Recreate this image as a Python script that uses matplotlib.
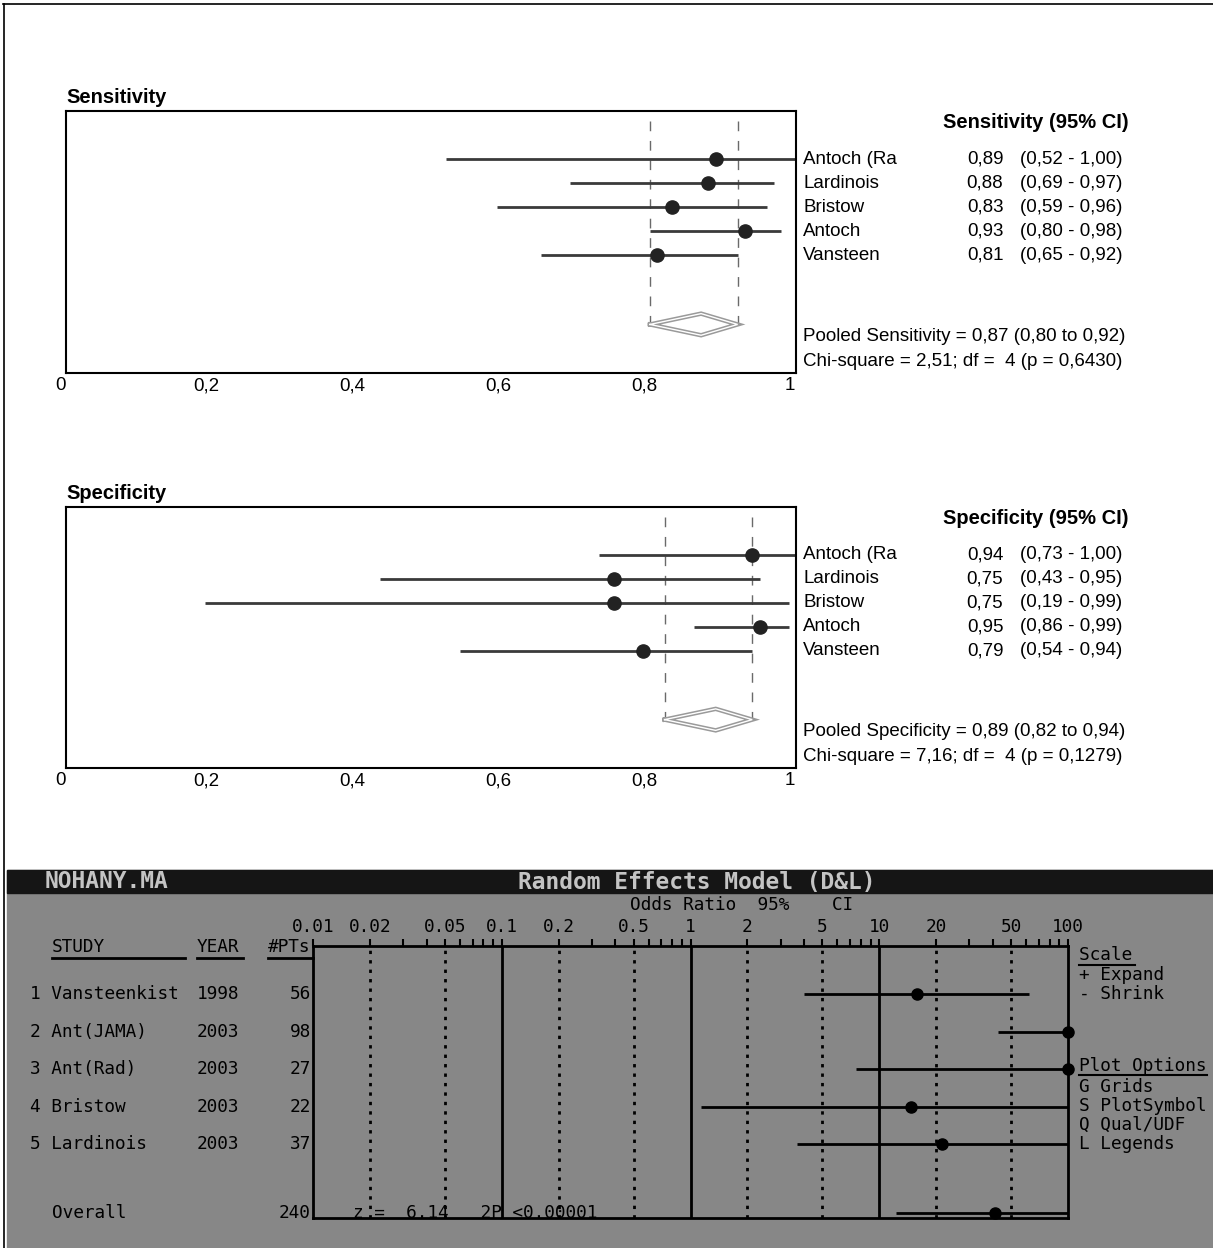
import matplotlib
matplotlib.use('Agg')
import matplotlib.pyplot as plt
import matplotlib.transforms as mtransforms
from matplotlib.lines import Line2D
from matplotlib.patches import Rectangle
from matplotlib.ticker import NullFormatter
import numpy as np

W, H = 1213, 1248
DPI = 100
SANS = ['Liberation Sans', 'DejaVu Sans']
MONO = ['DejaVu Sans Mono']

# --- Sensitivity / Specificity (Meta-DiSc style) ---
studies = ['Antoch (Ra', 'Lardinois', 'Bristow', 'Antoch', 'Vansteen']
sens_est = [0.89, 0.88, 0.83, 0.93, 0.81]
sens_lo = [0.52, 0.69, 0.59, 0.80, 0.65]
sens_hi = [1.00, 0.97, 0.96, 0.98, 0.92]
sens_pooled = [0.87, 0.80, 0.92]
sens_chi = [2.51, 4, 0.6430]

spec_est = [0.94, 0.75, 0.75, 0.95, 0.79]
spec_lo = [0.73, 0.43, 0.19, 0.86, 0.54]
spec_hi = [1.00, 0.95, 0.99, 0.99, 0.94]
spec_pooled = [0.89, 0.82, 0.94]
spec_chi = [7.16, 4, 0.1279]

# --- odds ratio screen (random effects, D&L) ---
or_studies = ['Vansteenkist', 'Ant(JAMA)', 'Ant(Rad)', 'Bristow', 'Lardinois']
or_years = [1998, 2003, 2003, 2003, 2003]
or_pts = [56, 98, 27, 22, 37]
or_est = [15.9, 100, 100, 14.8, 21.6]
or_lo = [4.0, 42.8, 7.5, 1.14, 3.65]
or_hi = [62.5, 100, 100, 100, 100]
overall_pts = 240
overall_or = [40.8, 12.3, 100]
overall_z = 6.14
or_ticks = [0.01, 0.02, 0.05, 0.1, 0.2, 0.5, 1, 2, 5, 10, 20, 50, 100]


def comma(v):
  return f'{v:.2f}'.replace('.', ',')


def pax(x0, y0, x1, y1):
  """axes from pixel box (top-left origin)"""
  return fig.add_axes([x0 / W, 1 - y1 / H, (x1 - x0) / W, (y1 - y0) / H])


def forest_panel(ax, title, est, lo, hi, pooled, chi):
  rows = np.arange(2, 2 + len(est))
  pooled_y = 8.88
  ax.set_xlim(0, 1)
  ax.set_ylim(10.9, 0)
  ax.vlines(pooled[1:], 0.4, pooled_y, colors='#6a6a6a', lw=1,
            linestyles=(0, (7, 7)))
  ax.hlines(rows, lo, hi, colors='#3a3a3a', lw=2)
  ax.plot(est, rows, 'o', ms=9.5, color='#222222', zorder=3, clip_on=False)
  dx = [pooled[1], pooled[0], pooled[2], pooled[0], pooled[1]]
  dy = [pooled_y, pooled_y - 0.45, pooled_y, pooled_y + 0.45, pooled_y]
  ax.plot(dx, dy, color='#9a9a9a', lw=3.2, solid_joinstyle='miter')
  ax.plot(dx, dy, color='white', lw=1.0, solid_joinstyle='miter')
  for s in ax.spines.values():
    s.set_linewidth(1.5)
  ax.set_yticks([])
  ticks = np.linspace(0, 1, 6)
  ax.set_xticks(ticks)
  ax.set_xticklabels([comma(t).rstrip('0').rstrip(',') if t not in (0, 1)
                      else str(int(t)) for t in ticks],
                     family=SANS, fontsize=13.5)
  ax.tick_params(length=0, pad=3)
  shift = mtransforms.ScaledTranslation(-6 / DPI, 0, fig.dpi_scale_trans)
  for lab in ax.get_xticklabels():
    lab.set_transform(lab.get_transform() + shift)

  kw = dict(family=SANS, fontsize=13.5, va='center', clip_on=False)
  bold = dict(kw, fontsize=14.5, fontweight='bold')
  ax.text(0, -0.58, title, **bold)
  ax.text(1.201, 0.46, f'{title} (95% CI)', **bold)
  for r, name, e, l, h in zip(rows, studies, est, lo, hi):
    ax.text(1.01, r, name, **kw)
    ax.text(1.284, r, comma(e), ha='right', **kw)
    ax.text(1.307, r, f'({comma(l)} - {comma(h)})', **kw)
  ax.text(1.01, 9.37, f'Pooled {title} = {comma(pooled[0])} '
          f'({comma(pooled[1])} to {comma(pooled[2])})', **kw)
  ax.text(1.01, 10.42, f'Chi-square = {comma(chi[0])}; df =  {chi[1]} '
          f'(p = {chi[2]:.4f})'.replace('.', ','), **kw)


fig = plt.figure(figsize=(W / DPI, H / DPI), dpi=DPI)
fig.patch.set_facecolor('white')

# page border
fig.add_artist(Line2D([3 / W, 1], [1 - 4 / H, 1 - 4 / H], color='black', lw=1.2))
fig.add_artist(Line2D([4 / W, 4 / W], [0, 1 - 4 / H], color='black', lw=1.2))

ax_sens = pax(66, 111, 796, 373)
forest_panel(ax_sens, 'Sensitivity', sens_est, sens_lo, sens_hi,
             sens_pooled, sens_chi)
ax_spec = pax(66, 507, 796, 768)
forest_panel(ax_spec, 'Specificity', spec_est, spec_lo, spec_hi,
             spec_pooled, spec_chi)

# --- bottom DOS-like screen ---
GRAY = '#878787'
fig.add_artist(Rectangle((7 / W, 0), 1 - 7 / W, 378 / H, transform=fig.transFigure,
                         color=GRAY, zorder=-5))
fig.add_artist(Rectangle((7 / W, 1 - 893 / H), 1 - 7 / W, 23 / H,
                         transform=fig.transFigure, color='#151515', zorder=-4))
hdr = dict(family=MONO, fontsize=16.5, fontweight='bold', color='#c4c4c4', va='center')
fig.text(45 / W, 1 - 882 / H, 'NOHANY.MA', **hdr)
fig.text(697 / W, 1 - 882 / H, 'Random Effects Model (D&L)', ha='center', **hdr)
mono = dict(family=MONO, fontsize=12.8, color='black', va='center')
fig.text(630 / W, 1 - 905 / H, 'Odds Ratio  95%    CI', **mono)

ax = pax(313, 946, 1068, 1218)
ax.set_facecolor('none')
ax.set_xscale('log')
ax.set_xlim(0.01, 100)
ax.set_ylim(6.97, -0.28)
for s in ax.spines.values():
  s.set_linewidth(2)
ax.xaxis.set_ticks_position('top')
ax.set_xticks(or_ticks)
ax.set_xticklabels([f'{t:g}' for t in or_ticks], family=MONO, fontsize=12.8)
minor = [m * 10.0 ** e for e in range(-2, 2) for m in (3, 4, 6, 7, 8, 9)]
ax.set_xticks(minor, minor=True)
ax.xaxis.set_minor_formatter(NullFormatter())
ax.tick_params(axis='x', which='both', direction='out', length=5, width=1.5,
               pad=2, top=True, bottom=False)
ax.set_yticks([])

for t in or_ticks[1:-1]:
  if t in (0.1, 1, 10):
    ax.axvline(t, color='black', lw=2)
  else:
    ax.axvline(t, color='black', lw=2, ls=(0, (1.2, 2.2)))

rows = np.arange(1, 1 + len(or_est))
overall_y = 6.84
ax.hlines(rows, or_lo, or_hi, colors='black', lw=2)
ax.plot(or_est, rows, 'o', ms=8, color='black', clip_on=False, zorder=3)
ax.hlines(overall_y, overall_or[1], overall_or[2], colors='black', lw=2)
ax.plot(overall_or[0], overall_y, 'o', ms=8, color='black', clip_on=False, zorder=3)

tr = ax.get_yaxis_transform()
tkw = dict(transform=tr, clip_on=False, **mono)
ax.text(-0.3457, -0.25, 'STUDY', **tkw)
ax.text(-0.1536, -0.25, 'YEAR', **tkw)
ax.text(-0.003, -0.25, '#PTs', ha='right', **tkw)
for x0, x1 in [(-0.3457, -0.1695), (-0.1536, -0.0927), (-0.0596, 0.0)]:
  ax.plot([x0, x1], [0.04, 0.04], color='black', lw=2, transform=tr, clip_on=False)
for i, (name, yr, n) in enumerate(zip(or_studies, or_years, or_pts)):
  ax.text(-0.3748, rows[i], f'{i + 1} {name}', **tkw)
  ax.text(-0.1536, rows[i], str(yr), **tkw)
  ax.text(-0.003, rows[i], str(n), ha='right', **tkw)
ax.text(-0.3457, overall_y, 'Overall', **tkw)
ax.text(-0.003, overall_y, str(overall_pts), ha='right', **tkw)
ax.text(0.053, overall_y, f'z =  {overall_z:.2f}   2P <0.00001', **tkw)

legend_items = ['Scale ', '+ Expand', '- Shrink', 'Plot Options',
                'G Grids', 'S PlotSymbol', 'Q Qual/UDF', 'L Legends']
legend_y = [-0.04, 0.49, 1.0, 2.92, 3.48, 3.99, 4.49, 5.0]
for txt, y in zip(legend_items, legend_y):
  ax.text(1.0146, y, txt, **tkw)
ax.plot([1.0146, 1.0887], [0.23, 0.23], color='black', lw=1.5, transform=tr, clip_on=False)
ax.plot([1.0146, 1.184], [3.16, 3.16], color='black', lw=1.5, transform=tr, clip_on=False)

fig.savefig('out.png', dpi=DPI)
